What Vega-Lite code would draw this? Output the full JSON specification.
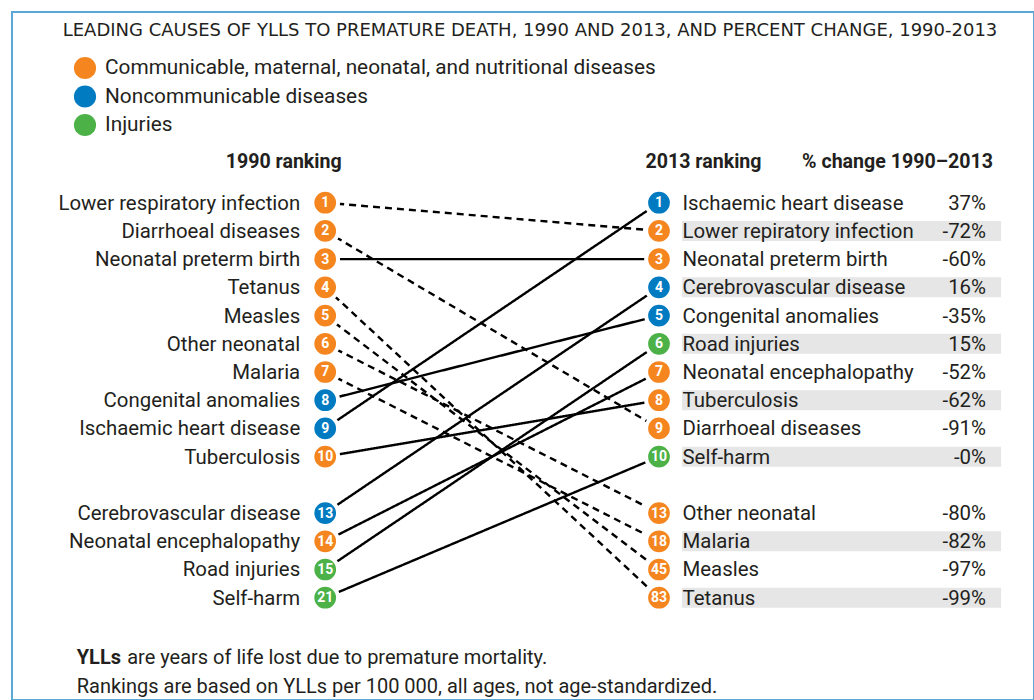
{
  "$schema": "https://vega.github.io/schema/vega-lite/v6.json",
  "width": 1022,
  "height": 688,
  "autosize": {"type": "none"},
  "padding": {"left": 12, "top": 12, "right": 0, "bottom": 0},
  "background": "white",
  "config": {
    "view": {"stroke": "#5aa7d8", "strokeWidth": 2},
    "font": "Roboto",
    "text": {"font": "Roboto", "fill": "#231f20"}
  },
  "title": {
    "text": "LEADING CAUSES OF YLLS TO PREMATURE DEATH, 1990 AND 2013, AND PERCENT CHANGE, 1990-2013",
    "orient": "top",
    "anchor": "middle",
    "frame": "group",
    "baseline": "alphabetic",
    "offset": -25,
    "dy": 17,
    "dx": 7,
    "font": "DejaVu Sans",
    "fontSize": 18,
    "fontWeight": "normal",
    "color": "#231f20"
  },
  "datasets": {
    "ranks": [
      {"cause": "Lower respiratory infection", "year": 1990, "rank": 1, "row": 0, "group": "Communicable, maternal, neonatal, and nutritional diseases", "trend": "down", "label": "Lower respiratory infection", "pct": ""},
      {"cause": "Lower respiratory infection", "year": 2013, "rank": 2, "row": 1, "group": "Communicable, maternal, neonatal, and nutritional diseases", "trend": "down", "label": "Lower repiratory infection", "pct": "-72%"},
      {"cause": "Diarrhoeal diseases", "year": 1990, "rank": 2, "row": 1, "group": "Communicable, maternal, neonatal, and nutritional diseases", "trend": "down", "label": "Diarrhoeal diseases", "pct": ""},
      {"cause": "Diarrhoeal diseases", "year": 2013, "rank": 9, "row": 8, "group": "Communicable, maternal, neonatal, and nutritional diseases", "trend": "down", "label": "Diarrhoeal diseases", "pct": "-91%"},
      {"cause": "Neonatal preterm birth", "year": 1990, "rank": 3, "row": 2, "group": "Communicable, maternal, neonatal, and nutritional diseases", "trend": "up", "label": "Neonatal preterm birth", "pct": ""},
      {"cause": "Neonatal preterm birth", "year": 2013, "rank": 3, "row": 2, "group": "Communicable, maternal, neonatal, and nutritional diseases", "trend": "up", "label": "Neonatal preterm birth", "pct": "-60%"},
      {"cause": "Tetanus", "year": 1990, "rank": 4, "row": 3, "group": "Communicable, maternal, neonatal, and nutritional diseases", "trend": "down", "label": "Tetanus", "pct": ""},
      {"cause": "Tetanus", "year": 2013, "rank": 83, "row": 14, "group": "Communicable, maternal, neonatal, and nutritional diseases", "trend": "down", "label": "Tetanus", "pct": "-99%"},
      {"cause": "Measles", "year": 1990, "rank": 5, "row": 4, "group": "Communicable, maternal, neonatal, and nutritional diseases", "trend": "down", "label": "Measles", "pct": ""},
      {"cause": "Measles", "year": 2013, "rank": 45, "row": 13, "group": "Communicable, maternal, neonatal, and nutritional diseases", "trend": "down", "label": "Measles", "pct": "-97%"},
      {"cause": "Other neonatal", "year": 1990, "rank": 6, "row": 5, "group": "Communicable, maternal, neonatal, and nutritional diseases", "trend": "down", "label": "Other neonatal", "pct": ""},
      {"cause": "Other neonatal", "year": 2013, "rank": 13, "row": 11, "group": "Communicable, maternal, neonatal, and nutritional diseases", "trend": "down", "label": "Other neonatal", "pct": "-80%"},
      {"cause": "Malaria", "year": 1990, "rank": 7, "row": 6, "group": "Communicable, maternal, neonatal, and nutritional diseases", "trend": "down", "label": "Malaria", "pct": ""},
      {"cause": "Malaria", "year": 2013, "rank": 18, "row": 12, "group": "Communicable, maternal, neonatal, and nutritional diseases", "trend": "down", "label": "Malaria", "pct": "-82%"},
      {"cause": "Congenital anomalies", "year": 1990, "rank": 8, "row": 7, "group": "Noncommunicable diseases", "trend": "up", "label": "Congenital anomalies", "pct": ""},
      {"cause": "Congenital anomalies", "year": 2013, "rank": 5, "row": 4, "group": "Noncommunicable diseases", "trend": "up", "label": "Congenital anomalies", "pct": "-35%"},
      {"cause": "Ischaemic heart disease", "year": 1990, "rank": 9, "row": 8, "group": "Noncommunicable diseases", "trend": "up", "label": "Ischaemic heart disease", "pct": ""},
      {"cause": "Ischaemic heart disease", "year": 2013, "rank": 1, "row": 0, "group": "Noncommunicable diseases", "trend": "up", "label": "Ischaemic heart disease", "pct": "37%"},
      {"cause": "Tuberculosis", "year": 1990, "rank": 10, "row": 9, "group": "Communicable, maternal, neonatal, and nutritional diseases", "trend": "up", "label": "Tuberculosis", "pct": ""},
      {"cause": "Tuberculosis", "year": 2013, "rank": 8, "row": 7, "group": "Communicable, maternal, neonatal, and nutritional diseases", "trend": "up", "label": "Tuberculosis", "pct": "-62%"},
      {"cause": "Cerebrovascular disease", "year": 1990, "rank": 13, "row": 11, "group": "Noncommunicable diseases", "trend": "up", "label": "Cerebrovascular disease", "pct": ""},
      {"cause": "Cerebrovascular disease", "year": 2013, "rank": 4, "row": 3, "group": "Noncommunicable diseases", "trend": "up", "label": "Cerebrovascular disease", "pct": "16%"},
      {"cause": "Neonatal encephalopathy", "year": 1990, "rank": 14, "row": 12, "group": "Communicable, maternal, neonatal, and nutritional diseases", "trend": "up", "label": "Neonatal encephalopathy", "pct": ""},
      {"cause": "Neonatal encephalopathy", "year": 2013, "rank": 7, "row": 6, "group": "Communicable, maternal, neonatal, and nutritional diseases", "trend": "up", "label": "Neonatal encephalopathy", "pct": "-52%"},
      {"cause": "Road injuries", "year": 1990, "rank": 15, "row": 13, "group": "Injuries", "trend": "up", "label": "Road injuries", "pct": ""},
      {"cause": "Road injuries", "year": 2013, "rank": 6, "row": 5, "group": "Injuries", "trend": "up", "label": "Road injuries", "pct": "15%"},
      {"cause": "Self-harm", "year": 1990, "rank": 21, "row": 14, "group": "Injuries", "trend": "up", "label": "Self-harm", "pct": ""},
      {"cause": "Self-harm", "year": 2013, "rank": 10, "row": 9, "group": "Injuries", "trend": "up", "label": "Self-harm", "pct": "-0%"}
    ]
  },
  "data": {"name": "ranks"},
  "layer": [
    {
      "transform": [{"filter": "datum.year == 2013 && ((datum.row < 10 && datum.row % 2 == 1) || (datum.row > 10 && datum.row % 2 == 0))"}],
      "mark": {"type": "rule", "color": "#e6e6e6", "strokeWidth": 20, "strokeCap": "butt"},
      "encoding": {
        "x": {"datum": 2014.59, "type": "quantitative", "scale": {"domain": [1990, 2013], "range": [313.2, 647], "zero": false, "nice": false}, "axis": null},
        "x2": {"datum": 2036.57},
        "y": {"field": "row", "type": "quantitative", "scale": {"domain": [0, 14], "range": [190.7, 585.7], "zero": false, "nice": false}, "axis": null}
      }
    },
    {
      "mark": {"type": "line", "color": "#000000", "strokeWidth": 2.4},
      "encoding": {
        "x": {"field": "year", "type": "quantitative", "axis": null},
        "y": {"field": "row", "type": "quantitative", "axis": null},
        "detail": {"field": "cause"},
        "strokeDash": {"field": "trend", "type": "nominal", "scale": {"domain": ["up", "down"], "range": [[1, 0], [7, 5]]}, "legend": null}
      }
    },
    {
      "mark": {"type": "point", "shape": "circle", "filled": true, "size": 661, "stroke": "white", "strokeWidth": 4, "opacity": 1},
      "encoding": {
        "x": {"field": "year", "type": "quantitative", "axis": null},
        "y": {"field": "row", "type": "quantitative", "axis": null},
        "fill": {
          "field": "group",
          "type": "nominal",
          "scale": {
            "domain": ["Communicable, maternal, neonatal, and nutritional diseases", "Noncommunicable diseases", "Injuries"],
            "range": ["#f5861f", "#007bc2", "#4cb248"]
          },
          "legend": {
            "orient": "none",
            "legendX": 61.5,
            "legendY": 44.5,
            "title": null,
            "symbolType": "circle",
            "symbolSize": 491,
            "symbolStrokeWidth": 0,
            "symbolOpacity": 1,
            "labelFont": "Roboto",
            "labelFontSize": 20.8,
            "labelColor": "#231f20",
            "labelOffset": 8.5,
            "labelLimit": 800,
            "rowPadding": 5.5,
            "padding": 0
          }
        }
      }
    },
    {
      "mark": {"type": "text", "fill": "white", "fontWeight": "bold", "fontSize": 14, "baseline": "middle", "align": "center", "dy": 0.5},
      "encoding": {
        "x": {"field": "year", "type": "quantitative", "axis": null},
        "y": {"field": "row", "type": "quantitative", "axis": null},
        "text": {"field": "rank", "type": "quantitative"}
      }
    },
    {
      "transform": [{"filter": "datum.year == 1990"}],
      "mark": {"type": "text", "fontSize": 20.4, "baseline": "middle", "align": "right", "dx": -25, "dy": 1},
      "encoding": {
        "x": {"field": "year", "type": "quantitative", "axis": null},
        "y": {"field": "row", "type": "quantitative", "axis": null},
        "text": {"field": "label", "type": "nominal"}
      }
    },
    {
      "transform": [{"filter": "datum.year == 2013"}],
      "mark": {"type": "text", "fontSize": 20.4, "baseline": "middle", "align": "left", "dx": 23.5, "dy": 1},
      "encoding": {
        "x": {"field": "year", "type": "quantitative", "axis": null},
        "y": {"field": "row", "type": "quantitative", "axis": null},
        "text": {"field": "label", "type": "nominal"}
      }
    },
    {
      "transform": [{"filter": "datum.year == 2013"}],
      "mark": {"type": "text", "fontSize": 20.4, "baseline": "middle", "align": "right", "dx": 327, "dy": 1},
      "encoding": {
        "x": {"field": "year", "type": "quantitative", "axis": null},
        "y": {"field": "row", "type": "quantitative", "axis": null},
        "text": {"field": "pct", "type": "nominal"}
      }
    },
    {
      "data": {"values": [{"header": "1990 ranking", "year": 1990}]},
      "mark": {"type": "text", "fontSize": 19.6, "fontWeight": "bold", "baseline": "middle", "align": "center", "dx": -41.5},
      "encoding": {
        "x": {"field": "year", "type": "quantitative"},
        "y": {"datum": -1.443, "type": "quantitative"},
        "text": {"field": "header", "type": "nominal"}
      }
    },
    {
      "data": {"values": [{"header": "2013 ranking", "year": 2013}]},
      "mark": {"type": "text", "fontSize": 19.6, "fontWeight": "bold", "baseline": "middle", "align": "center", "dx": 44.5},
      "encoding": {
        "x": {"field": "year", "type": "quantitative"},
        "y": {"datum": -1.443, "type": "quantitative"},
        "text": {"field": "header", "type": "nominal"}
      }
    },
    {
      "data": {"values": [{"header": "% change 1990–2013", "year": 2013}]},
      "mark": {"type": "text", "fontSize": 19.6, "fontWeight": "bold", "baseline": "middle", "align": "right", "dx": 334},
      "encoding": {
        "x": {"field": "year", "type": "quantitative"},
        "y": {"datum": -1.443, "type": "quantitative"},
        "text": {"field": "header", "type": "nominal"}
      }
    },
    {
      "data": {"values": [{"note": "YLLs", "year": 1990, "line": 16.14}]},
      "mark": {"type": "text", "fontSize": 20, "fontWeight": "bold", "baseline": "middle", "align": "left", "dx": -248.5},
      "encoding": {
        "x": {"field": "year", "type": "quantitative"},
        "y": {"field": "line", "type": "quantitative"},
        "text": {"field": "note", "type": "nominal"}
      }
    },
    {
      "data": {"values": [{"note": "are years of life lost due to premature mortality.", "year": 1990, "line": 16.14}]},
      "mark": {"type": "text", "fontSize": 20, "baseline": "middle", "align": "left", "dx": -198},
      "encoding": {
        "x": {"field": "year", "type": "quantitative"},
        "y": {"field": "line", "type": "quantitative"},
        "text": {"field": "note", "type": "nominal"}
      }
    },
    {
      "data": {"values": [{"note": "Rankings are based on YLLs per 100 000, all ages, not age-standardized.", "year": 1990, "line": 17.17}]},
      "mark": {"type": "text", "fontSize": 20, "baseline": "middle", "align": "left", "dx": -248.5},
      "encoding": {
        "x": {"field": "year", "type": "quantitative"},
        "y": {"field": "line", "type": "quantitative"},
        "text": {"field": "note", "type": "nominal"}
      }
    }
  ]
}
